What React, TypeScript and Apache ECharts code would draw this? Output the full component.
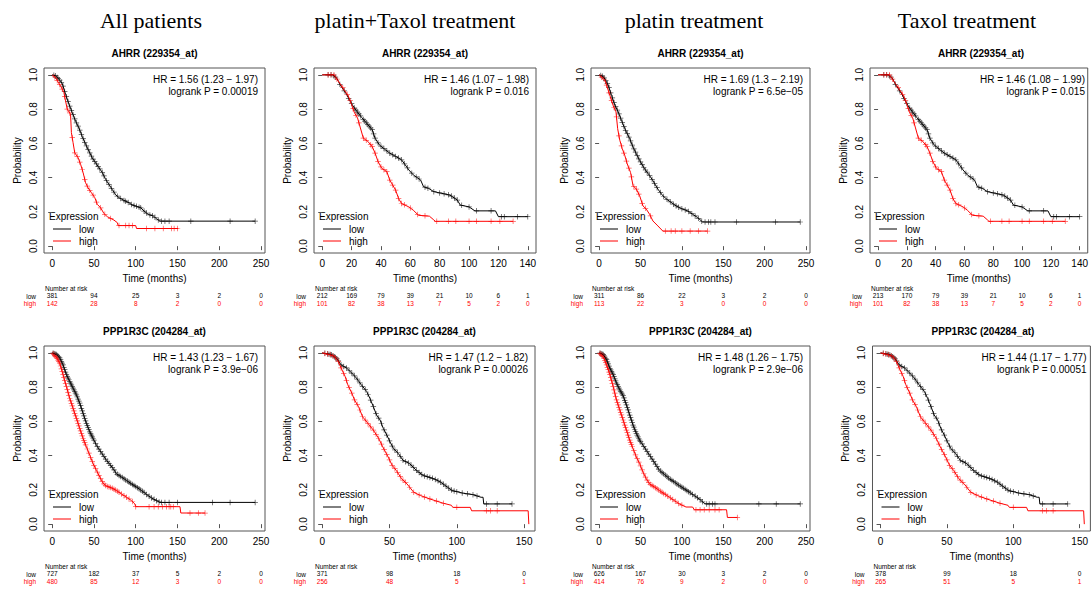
import React, { useEffect, useRef } from "react";
import * as echarts from "echarts";

// ---------------- data ----------------
const COLUMN_TITLES = ["All patients", "platin+Taxol treatment", "platin treatment", "Taxol treatment"];
const GENE_TITLES = ["AHRR (229354_at)", "PPP1R3C (204284_at)"];

const HR_TEXT = [
  "HR = 1.56 (1.23 \u2212 1.97)", "HR = 1.46 (1.07 \u2212 1.98)", "HR = 1.69 (1.3 \u2212 2.19)", "HR = 1.46 (1.08 \u2212 1.99)",
  "HR = 1.43 (1.23 \u2212 1.67)", "HR = 1.47 (1.2 \u2212 1.82)", "HR = 1.48 (1.26 \u2212 1.75)", "HR = 1.44 (1.17 \u2212 1.77)",
];
const P_TEXT = [
  "logrank P = 0.00019", "logrank P = 0.016", "logrank P = 6.5e\u221205", "logrank P = 0.015",
  "logrank P = 3.9e\u221206", "logrank P = 0.00026", "logrank P = 2.9e\u221206", "logrank P = 0.00051",
];

const TICKS_250 = [0, 50, 100, 150, 200, 250];
const TICKS_140 = [0, 20, 40, 60, 80, 100, 120, 140];
const TICKS_150 = [0, 50, 100, 150];
const Y_TICKS = [0, 0.2, 0.4, 0.6, 0.8, 1.0];

// numbers at risk
const P1_RISK_LOW = [381, 94, 25, 3, 2, 0];
const P1_RISK_HIGH = [142, 28, 8, 2, 0, 0];
const P2_RISK_LOW = [212, 169, 79, 39, 21, 10, 6, 1];
const P2_RISK_HIGH = [101, 82, 38, 13, 7, 5, 2, 0];
const P3_RISK_LOW = [311, 86, 22, 3, 2, 0];
const P3_RISK_HIGH = [113, 22, 3, 0, 0, 0];
const P4_RISK_LOW = [213, 170, 79, 39, 21, 10, 6, 1];
const P4_RISK_HIGH = [101, 82, 38, 13, 7, 5, 2, 0];
const P5_RISK_LOW = [727, 182, 37, 5, 2, 0];
const P5_RISK_HIGH = [480, 85, 12, 3, 0, 0];
const P6_RISK_LOW = [371, 98, 18, 0];
const P6_RISK_HIGH = [256, 48, 5, 1];
const P7_RISK_LOW = [626, 167, 30, 3, 2, 0];
const P7_RISK_HIGH = [414, 76, 9, 2, 0, 0];
const P8_RISK_LOW = [378, 99, 18, 0];
const P8_RISK_HIGH = [265, 51, 5, 1];

// survival curves [months, probability]
const P1_LOW = [[0,1],[4,0.995],[8,0.975],[12,0.95],[16,0.887],[20,0.83],[24,0.78],[28,0.73],[32,0.69],[36,0.64],[40,0.595],[44,0.555],[48,0.515],[52,0.487],[56,0.458],[60,0.43],[64,0.39],[68,0.36],[72,0.33],[76,0.30],[80,0.283],[86,0.267],[92,0.253],[96,0.24],[100,0.234],[106,0.224],[110,0.205],[115,0.185],[121,0.176],[125,0.16],[129,0.146],[243,0.146]];
const P1_HIGH = [[0,1],[4,0.985],[8,0.95],[10,0.936],[14,0.897],[16,0.848],[18,0.80],[22,0.77],[23,0.663],[25,0.604],[27,0.545],[31,0.517],[34,0.478],[37,0.43],[40,0.37],[43,0.34],[47,0.312],[51,0.283],[54,0.244],[58,0.224],[62,0.19],[66,0.172],[74,0.152],[78,0.137],[79,0.12],[100,0.12],[101,0.103],[151,0.103]];
const P1_LOW_CENS = [2,4,6,7,9,11,13,15,17,19,21,23,25,27,29,31,33,35,37,39,41,43,45,47,49,51,53,55,57,60,62,65,68,71,74,78,82,86,88,91,95,98,101,104,106,110,113,117,120,123,127,131,135,140,166,213,243];
const P1_HIGH_CENS = [3,6,9,12,15,18,21,24,27,30,33,36,39,42,45,49,53,58,63,70,80,88,92,96,113,123,133,143,146,150];

const P2_LOW = [[0,1],[7,1],[10,0.98],[12,0.945],[14.3,0.916],[16.6,0.886],[19,0.847],[21,0.818],[23.5,0.788],[27,0.75],[30,0.72],[34,0.68],[36,0.63],[39,0.59],[43,0.563],[46,0.543],[50,0.524],[54,0.504],[56.5,0.475],[59,0.445],[62,0.416],[67,0.386],[69,0.347],[72.5,0.337],[76,0.318],[81.5,0.308],[87,0.298],[92,0.269],[94,0.24],[100,0.229],[104,0.206],[118,0.206],[120,0.172],[140,0.172]];
const P2_HIGH = [[0,1],[8,1],[12,0.95],[15.5,0.906],[17.8,0.876],[20,0.827],[22,0.778],[24,0.75],[26,0.69],[28,0.63],[31,0.612],[34,0.582],[36,0.543],[38,0.494],[40.5,0.455],[44,0.435],[46,0.386],[50,0.327],[52,0.278],[54,0.249],[59,0.229],[62,0.21],[65.6,0.18],[73,0.175],[76,0.153],[77,0.145],[130,0.145]];
const P2_LOW_CENS = [4,6,8,9,12,15,18,20,22,23,24,25,26,28,29,30,31,32,33,34,35,36,38,40,42,44,46,48,50,52,54,56,58,61,64,66,70,72,76,80,83,86,88,90,92,95,100,105,115,122,124,133,140];
const P2_HIGH_CENS = [4,6,8,10,14,17,19,21,23,25,28,30,33,34,36,38,40,42,44,46,48,50,52,54,56,60,65,70,78,86,91,100,105,115,121,130];

const P3_LOW = [[0,1],[5,0.99],[7,0.975],[11,0.94],[15,0.88],[19,0.824],[23,0.784],[27,0.735],[31,0.686],[37,0.627],[41,0.578],[45,0.539],[49,0.5],[55,0.451],[61,0.412],[65,0.382],[71,0.333],[77,0.294],[83,0.269],[93,0.235],[99,0.22],[107,0.206],[113,0.186],[119,0.167],[125,0.141],[243,0.141]];
const P3_HIGH = [[0,1],[7,0.97],[9,0.94],[13,0.88],[17,0.82],[20.4,0.784],[22.4,0.686],[25,0.618],[28,0.569],[31,0.53],[34,0.48],[38,0.43],[41,0.353],[45,0.333],[49,0.294],[53,0.235],[57,0.216],[61,0.186],[65,0.147],[71,0.118],[77,0.088],[131,0.088]];
const P3_LOW_CENS = [2,4,6,8,10,12,14,16,18,20,22,24,26,28,30,32,34,36,38,40,42,44,46,48,50,52,54,56,58,61,64,67,70,74,78,82,86,90,93,96,100,104,108,112,116,120,124,128,132,135,140,166,213,243];
const P3_HIGH_CENS = [3,6,9,12,15,18,21,24,27,30,33,36,39,42,45,48,52,56,62,80,87,92,100,110,120,131];

const P4_LOW = P2_LOW;
const P4_HIGH = P2_HIGH;
const P4_LOW_CENS = P2_LOW_CENS;
const P4_HIGH_CENS = P2_HIGH_CENS;

const P5_LOW = [[0,1],[5,0.99],[9,0.97],[13,0.93],[17,0.873],[21,0.833],[25,0.794],[29,0.755],[33,0.706],[37,0.647],[41,0.588],[45,0.539],[49,0.5],[53,0.461],[57,0.431],[61,0.402],[65,0.373],[69,0.349],[73,0.324],[77,0.294],[83,0.275],[89,0.255],[95,0.235],[101,0.216],[107,0.196],[113,0.173],[119,0.153],[125,0.137],[129,0.127],[243,0.127]];
const P5_HIGH = [[0,1],[5,0.975],[9,0.94],[13,0.873],[17,0.804],[21,0.735],[25,0.676],[29,0.618],[33,0.559],[37,0.5],[41,0.451],[45,0.402],[49,0.353],[53,0.314],[57,0.275],[61,0.239],[65,0.222],[71,0.212],[77,0.196],[83,0.176],[89,0.157],[95,0.137],[99,0.118],[100,0.102],[153,0.102],[154,0.065],[183,0.065]];
const P5_LOW_CENS = [1,2,3,4,5,6,7,8,9,10,11,12,13,14,15,16,17,18,19,20,21,22,23,24,25,26,27,28,29,30,31,32,33,34,35,36,37,38,39,40,41,42,43,44,45,46,47,48,49,50,52,54,56,58,60,62,64,66,68,70,72,74,76,78,80,82,84,86,88,90,92,94,96,98,100,102,104,106,108,110,113,116,119,122,125,128,131,135,140,150,192,213,243];
const P5_HIGH_CENS = [1,2,3,4,5,6,7,8,9,10,11,12,13,14,15,16,17,18,19,20,21,22,23,24,25,26,27,28,29,30,31,32,33,34,35,36,37,38,39,40,42,44,46,48,50,52,54,56,58,60,62,64,66,68,70,72,74,76,78,80,83,86,89,92,96,100,116,122,127,132,137,140,142,145,165,175,183];

const P6_LOW = [[0,1],[6.7,0.99],[10.5,0.97],[14,0.93],[18,0.912],[22,0.882],[25.4,0.853],[29,0.814],[33,0.775],[35.4,0.735],[38,0.686],[40.4,0.637],[43,0.608],[45.4,0.559],[48,0.52],[50.4,0.48],[53,0.441],[56.6,0.412],[60,0.373],[65,0.353],[70,0.314],[75,0.284],[83,0.265],[88,0.245],[93,0.216],[96.5,0.196],[105,0.18],[111.5,0.173],[118,0.157],[119.5,0.157],[120,0.118],[141,0.118]];
const P6_HIGH = [[0,1],[5.5,0.99],[9,0.98],[12,0.95],[14,0.912],[17,0.863],[19,0.814],[22,0.765],[24,0.725],[27,0.686],[30,0.627],[34,0.588],[38,0.549],[42,0.5],[45,0.451],[49,0.392],[52,0.343],[55,0.314],[59,0.265],[63,0.235],[68,0.186],[73,0.167],[80,0.147],[90,0.122],[96,0.11],[97,0.098],[110,0.098],[111,0.078],[153,0.078],[153.5,0]];
const P6_LOW_CENS = [2,4,5,6,7,8,9,10,11,12,14,16,18,20,22,24,26,28,30,32,34,36,38,40,42,44,46,48,50,52,54,56,58,60,62,64,66,68,70,72,74,76,78,80,82,84,86,88,90,92,94,96,98,100,104,108,112,115,122,130,141];
const P6_HIGH_CENS = [2,4,6,8,10,12,14,16,18,20,22,24,26,28,30,32,34,36,38,40,42,44,46,48,50,52,54,56,58,60,62,65,68,72,76,80,85,90,100,122,125,130];

const P7_LOW = [[0,1],[5,0.99],[9,0.96],[13,0.91],[17,0.873],[21,0.824],[25,0.784],[29,0.75],[33,0.696],[37,0.637],[41,0.578],[45,0.53],[49,0.49],[53,0.461],[57,0.431],[61,0.402],[65,0.373],[69,0.343],[73,0.314],[79,0.29],[85,0.265],[91,0.245],[97,0.225],[103,0.206],[109,0.186],[115,0.167],[121,0.147],[127,0.122],[129,0.118],[243,0.118]];
const P7_HIGH = [[0,1],[5,0.98],[9,0.93],[13,0.873],[17,0.804],[21,0.725],[25,0.667],[29,0.608],[33,0.549],[37,0.49],[41,0.441],[45,0.392],[49,0.353],[53,0.304],[57,0.265],[61,0.235],[67,0.216],[73,0.196],[79,0.176],[85,0.157],[91,0.137],[97,0.118],[105,0.1],[113,0.1],[115,0.084],[154,0.084],[155,0.039],[167,0.039]];
const P7_LOW_CENS = [1,2,3,4,5,6,7,8,9,10,11,12,13,14,15,16,17,18,19,20,21,22,23,24,25,26,27,28,29,30,31,32,33,34,35,36,37,38,39,40,41,42,43,44,45,46,47,48,49,50,52,54,56,58,60,62,64,66,68,70,72,74,76,78,80,82,84,86,88,90,92,94,96,98,100,102,104,106,108,110,113,116,119,122,125,130,133,137,140,193,214,243];
const P7_HIGH_CENS = [1,2,3,4,5,6,7,8,9,10,11,12,13,14,15,16,17,18,19,20,21,22,23,24,25,26,27,28,29,30,31,32,33,34,35,36,37,38,39,40,42,44,46,48,50,52,54,56,58,60,62,64,66,68,70,72,74,76,78,80,83,86,89,92,96,100,117,122,127,133,140,145,167];

const P8_LOW = P6_LOW;
const P8_HIGH = P6_HIGH;
const P8_LOW_CENS = P6_LOW_CENS;
const P8_HIGH_CENS = P6_HIGH_CENS;

// ---------------- layout ----------------
const FONT = "'Liberation Sans', Arial, sans-serif";
const SERIF = "'Liberation Serif', 'Times New Roman', serif";
const ROW_TOP = [68, 346];
const PLOT_H = 185;
const COL_CENTERS = [151, 415, 694, 967];
const CROSS = "path://M2.6,0H3.4V2.6H6V3.4H3.4V6H2.6V3.4H0V2.6H2.6Z";

const PANELS = [
  { L: 44, W: 221, row: 0, M: 245, ticks: TICKS_250, riskLow: P1_RISK_LOW, riskHigh: P1_RISK_HIGH, low: P1_LOW, high: P1_HIGH, lowC: P1_LOW_CENS, highC: P1_HIGH_CENS },
  { L: 314, W: 222, row: 0, M: 140, ticks: TICKS_140, riskLow: P2_RISK_LOW, riskHigh: P2_RISK_HIGH, low: P2_LOW, high: P2_HIGH, lowC: P2_LOW_CENS, highC: P2_HIGH_CENS },
  { L: 591, W: 219, row: 0, M: 245, ticks: TICKS_250, riskLow: P3_RISK_LOW, riskHigh: P3_RISK_HIGH, low: P3_LOW, high: P3_HIGH, lowC: P3_LOW_CENS, highC: P3_HIGH_CENS },
  { L: 870, W: 222, row: 0, M: 140, ticks: TICKS_140, riskLow: P4_RISK_LOW, riskHigh: P4_RISK_HIGH, low: P4_LOW, high: P4_HIGH, lowC: P4_LOW_CENS, highC: P4_HIGH_CENS },
  { L: 44, W: 221, row: 1, M: 245, ticks: TICKS_250, riskLow: P5_RISK_LOW, riskHigh: P5_RISK_HIGH, low: P5_LOW, high: P5_HIGH, lowC: P5_LOW_CENS, highC: P5_HIGH_CENS },
  { L: 314, W: 221, row: 1, M: 152, ticks: TICKS_150, riskLow: P6_RISK_LOW, riskHigh: P6_RISK_HIGH, low: P6_LOW, high: P6_HIGH, lowC: P6_LOW_CENS, highC: P6_HIGH_CENS },
  { L: 591, W: 219, row: 1, M: 245, ticks: TICKS_250, riskLow: P7_RISK_LOW, riskHigh: P7_RISK_HIGH, low: P7_LOW, high: P7_HIGH, lowC: P7_LOW_CENS, highC: P7_HIGH_CENS },
  { L: 872.5, W: 221, row: 1, M: 152, ticks: TICKS_150, riskLow: P8_RISK_LOW, riskHigh: P8_RISK_HIGH, low: P8_LOW, high: P8_HIGH, lowC: P8_LOW_CENS, highC: P8_HIGH_CENS },
];

// value of the drawn curve at time t (censor marks sit on the curve)
function onCurve(curve: number[][], t: number): number {
  for (let i = 0; i < curve.length - 1; i++) {
    const a = curve[i], b = curve[i + 1];
    if (t >= a[0] && t <= b[0]) {
      if (b[0] === a[0]) return a[1];
      return a[1] + ((t - a[0]) / (b[0] - a[0])) * (b[1] - a[1]);
    }
  }
  return curve[curve.length - 1][1];
}

function buildOption() {
  const grid: any[] = [];
  const xAxis: any[] = [];
  const yAxis: any[] = [];
  const series: any[] = [];
  const graphic: any[] = [];
  const txt = (x: number, y: number, text: string, extra: any = {}) => ({
    type: "text", x, y, silent: true,
    style: { text, fill: "#000", fontSize: 10, fontFamily: FONT, align: "left", verticalAlign: "middle", ...extra },
  });

  COLUMN_TITLES.forEach((t, i) => {
    graphic.push(txt(COL_CENTERS[i], 20, t, { fontSize: 22, fontFamily: SERIF, align: "center" }));
  });

  PANELS.forEach((p, i) => {
    const T = ROW_TOP[p.row];
    const B = T + PLOT_H;
    const xmin = -0.04 * p.M, xmax = 1.04 * p.M;
    grid.push({ left: p.L, top: T, width: p.W, height: PLOT_H, show: true, borderColor: "#555", borderWidth: 1, backgroundColor: "transparent" });
    xAxis.push({
      gridIndex: i, type: "value", min: xmin, max: xmax,
      axisLine: { show: false }, splitLine: { show: false },
      axisTick: { show: true, length: 4, customValues: p.ticks, lineStyle: { color: "#555", width: 1 } },
      axisLabel: { customValues: p.ticks, margin: 5, fontSize: 10, color: "#000", fontFamily: FONT },
      name: "Time (months)", nameLocation: "middle", nameGap: 20,
      nameTextStyle: { fontSize: 10, color: "#000", fontFamily: FONT },
    });
    const ticks = p.ticks;
    xAxis.push({
      gridIndex: i, type: "value", min: xmin, max: xmax, position: "bottom", offset: 36,
      axisLine: { show: false }, axisTick: { show: false }, splitLine: { show: false },
      axisLabel: {
        customValues: ticks, margin: 3,
        formatter: (v: number) => {
          const k = ticks.indexOf(v);
          return `{l|${p.riskLow[k]}}\n{h|${p.riskHigh[k]}}`;
        },
        rich: {
          l: { color: "#000", fontSize: 6.5, lineHeight: 7.5, fontFamily: FONT },
          h: { color: "#ff0000", fontSize: 6.5, lineHeight: 7.5, fontFamily: FONT },
        },
      },
    });
    yAxis.push({
      gridIndex: i, type: "value", min: -0.04, max: 1.04,
      axisLine: { show: false }, splitLine: { show: false },
      axisTick: { show: true, length: 4, customValues: Y_TICKS, lineStyle: { color: "#555", width: 1 } },
      axisLabel: { customValues: Y_TICKS, rotate: 90, margin: 6, fontSize: 10, color: "#000", fontFamily: FONT, formatter: (v: number) => v.toFixed(1) },
      name: "Probability", nameLocation: "middle", nameGap: 22, nameRotate: 90,
      nameTextStyle: { fontSize: 10, color: "#000", fontFamily: FONT },
    });
    const xi = 2 * i;
    series.push({ type: "line", xAxisIndex: xi, yAxisIndex: i, data: p.low, showSymbol: false, silent: true, lineStyle: { color: "#000", width: 1 } });
    series.push({ type: "line", xAxisIndex: xi, yAxisIndex: i, data: p.high, showSymbol: false, silent: true, lineStyle: { color: "#ff0000", width: 1 } });
    series.push({ type: "scatter", xAxisIndex: xi, yAxisIndex: i, symbol: CROSS, symbolSize: 5.5, silent: true, itemStyle: { color: "#222" }, data: p.lowC.map((t) => [t, onCurve(p.low, t)]) });
    series.push({ type: "scatter", xAxisIndex: xi, yAxisIndex: i, symbol: CROSS, symbolSize: 5.5, silent: true, itemStyle: { color: "#ff2a2a" }, data: p.highC.map((t) => [t, onCurve(p.high, t)]) });

    // texts around the panel
    graphic.push(txt(p.L + p.W / 2, T - 15, GENE_TITLES[p.row], { align: "center", fontWeight: "bold" }));
    graphic.push(txt(p.L + p.W - 7, T + 11, HR_TEXT[i], { align: "right" }));
    graphic.push(txt(p.L + p.W - 7, T + 23, P_TEXT[i], { align: "right" }));
    graphic.push(txt(p.L + 5, B - 37, "Expression"));
    graphic.push({ type: "line", silent: true, shape: { x1: p.L + 9, y1: B - 24, x2: p.L + 27, y2: B - 24 }, style: { stroke: "#000", lineWidth: 1 } });
    graphic.push({ type: "line", silent: true, shape: { x1: p.L + 9, y1: B - 12, x2: p.L + 27, y2: B - 12 }, style: { stroke: "#ff0000", lineWidth: 1 } });
    graphic.push(txt(p.L + 35, B - 24, "low"));
    graphic.push(txt(p.L + 35, B - 12, "high"));
    graphic.push(txt(p.L + 1, B + 35, "Number at risk", { fontSize: 6.5 }));
    graphic.push(txt(p.L - 8, B + 43, "low", { fontSize: 6.5, align: "right" }));
    graphic.push(txt(p.L - 8, B + 50.5, "high", { fontSize: 6.5, align: "right", fill: "#ff0000" }));
  });

  return { animation: false, backgroundColor: "#fff", grid, xAxis, yAxis, series, graphic };
}

export default function App() {
  const ref = useRef<HTMLDivElement>(null);
  useEffect(() => {
    document.body.style.margin = "0";
    const chart = echarts.init(ref.current!, null, { renderer: "svg" });
    chart.setOption(buildOption() as any);
    return () => chart.dispose();
  }, []);
  return <div ref={ref} style={{ position: "absolute", left: 0, top: 0, width: 1091, height: 590, overflow: "hidden" }} />;
}
